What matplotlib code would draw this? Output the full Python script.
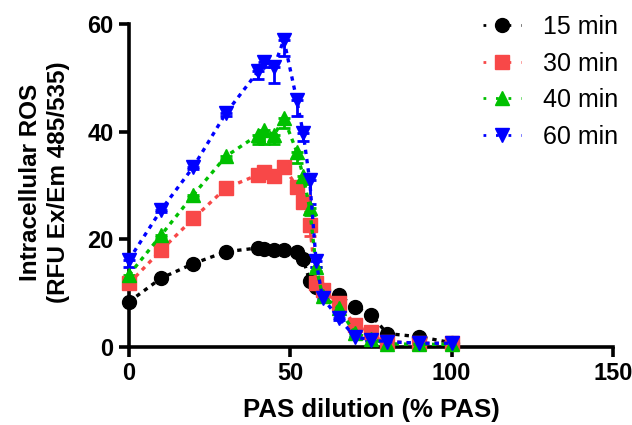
import numpy as np
import matplotlib.pyplot as plt
from matplotlib.lines import Line2D

plt.rcParams['font.family'] = ['Liberation Sans', 'DejaVu Sans']

x = [0, 10, 20, 30, 40, 42, 45, 48, 52, 54, 56, 58, 60, 65, 70, 75, 80, 90, 100]

y15 = [8.4, 12.8, 15.5, 17.7, 18.4, 18.2, 18.0, 18.1, 17.6, 16.3, 12.3, 11.2, 10.5, 9.6, 7.5, 6.0, 2.5, 1.9, 0.8]
e15 = [0.3, 0.3, 0.3, 0.3, 0.3, 0.3, 0.3, 0.3, 0.3, 0.4, 0.5, 0.4, 0.4, 0.3, 0.3, 0.3, 0.2, 0.2, 0.1]

y30 = [11.8, 18.0, 23.9, 29.5, 32.0, 32.6, 31.7, 33.5, 29.8, 27.0, 22.7, 11.8, 10.5, 8.2, 4.1, 2.8, 1.0, 0.7, 0.7]
e30 = [0.4, 0.4, 0.4, 0.4, 0.8, 0.8, 0.8, 0.8, 1.0, 1.0, 2.0, 0.8, 0.5, 0.4, 0.3, 0.3, 0.2, 0.2, 0.1]

y40 = [13.4, 20.8, 28.3, 35.4, 39.4, 40.3, 39.4, 42.5, 36.3, 31.7, 25.8, 14.9, 9.5, 7.2, 2.6, 1.5, 0.6, 0.5, 0.5]
e40 = [0.4, 0.4, 0.4, 0.5, 1.6, 2.5, 1.6, 1.9, 2.2, 1.5, 1.2, 0.8, 0.5, 0.4, 0.3, 0.2, 0.1, 0.1, 0.1]

y60 = [16.2, 25.5, 33.5, 43.4, 51.2, 53.0, 52.1, 57.1, 45.9, 39.7, 31.0, 15.9, 9.1, 5.4, 1.9, 1.3, 1.0, 0.7, 0.7]
e60 = [1.4, 0.4, 0.4, 0.5, 1.5, 1.0, 3.0, 3.0, 3.0, 1.5, 4.5, 1.0, 0.6, 0.4, 0.3, 0.2, 0.1, 0.1, 0.1]

labels = ['15 min', '30 min', '40 min', '60 min']
colors = ['#000000', '#F84848', '#00C000', '#0000FF']
markers = ['o', 's', '^', 'v']
dots = (0, (1.3, 1.5))

fig = plt.figure(figsize=(6.32, 4.25), dpi=100)
ax = fig.add_axes([0.204, 0.1835, 0.766, 0.76])

handles = []
for ys, es, lab, col, mk in zip([y15, y30, y40, y60], [e15, e30, e40, e60], labels, colors, markers):
    low = np.array(es)
    ax.errorbar(x, ys, yerr=[low, np.zeros_like(low)], color=col, marker=mk, markersize=10,
                linestyle=dots, linewidth=2.4, elinewidth=2, ecolor=col,
                capsize=4.5, capthick=2, clip_on=False, zorder=3)
    handles.append(Line2D([], [], color=col, marker=mk, markersize=10,
                          linestyle=(0, (1, 3.5)), linewidth=2))

ax.set_xlim(0, 150)
ax.set_ylim(0, 60)
ax.set_xticks([0, 50, 100, 150])
ax.set_yticks([0, 20, 40, 60])
ax.spines['top'].set_visible(False)
ax.spines['right'].set_visible(False)
ax.spines['left'].set_linewidth(2.6)
ax.spines['bottom'].set_linewidth(2.6)
ax.tick_params(width=2.6, length=7, labelsize=17, pad=4)
for t in ax.get_xticklabels() + ax.get_yticklabels():
    t.set_fontweight('bold')

ax.set_xlabel('PAS dilution (% PAS)', fontsize=18.5, fontweight='bold')
ax.xaxis.set_label_coords(0.5, -0.158)
ax.set_ylabel('Intracellular ROS\n(RFU Ex/Em 485/535)', fontsize=17.5, fontweight='bold',
              linespacing=1.25)
ax.yaxis.set_label_coords(-0.122, 0.51)

ax.legend(handles, labels, loc='upper left', bbox_to_anchor=(0.685, 1.097), frameon=False,
          fontsize=18, handlelength=1.5, labelspacing=0.5, handletextpad=0.9)

plt.savefig('out.png', dpi=100)
